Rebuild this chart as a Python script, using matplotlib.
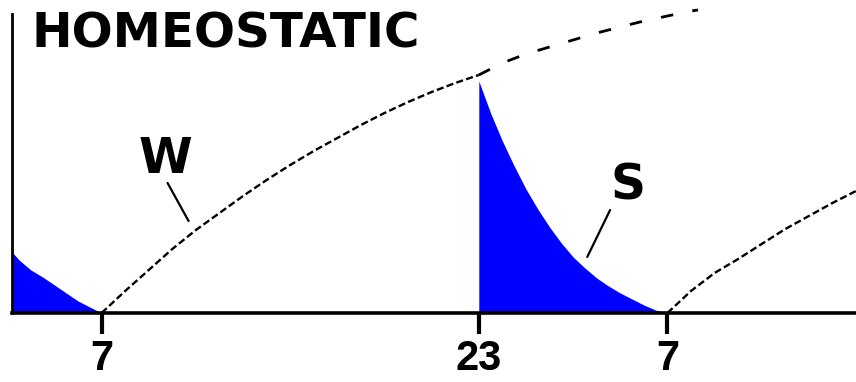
import matplotlib
matplotlib.use("Agg")
import matplotlib.pyplot as plt

# hours (7 = 7am, 23 = 11pm, 31 = 7am next day), heights in arbitrary units
w_day_hours = [7, 8, 9, 10, 11, 12, 13, 14, 15, 16, 17, 18, 19, 20, 21, 22, 23]
w_day = [0, 22, 43, 64, 83, 100, 117, 133, 148, 162, 175, 188, 200, 211, 221, 230, 238]

w_night_hours = [23, 24, 25, 26, 27, 28, 29, 30, 31, 32, 32.3]
w_night = [238, 250, 259, 266, 273, 280, 286, 292, 297, 302, 303]

w_next_hours = [31, 32, 33, 34, 35, 36, 37, 38, 39]
w_next = [0, 22, 40, 54, 69, 84, 97, 110, 122]

s_night_hours = [23, 23.5, 24, 24.5, 25, 25.5, 26, 26.5, 27, 27.5, 28, 28.5, 29, 29.5, 30, 30.5, 31]
s_night = [232, 200, 172, 147, 124, 104, 86, 70, 56, 45, 35, 27, 20, 14, 8, 3, 0]

s_morning_hours = [3.2, 3.5, 4, 4.5, 5, 5.5, 6, 6.5, 7]
s_morning = [61, 53, 43, 36, 28, 20, 12, 6, 0]

tick_pos = [7, 23, 31]
tick_labels = ["7", "23", "7"]

blue = "#0000ff"

fig = plt.figure(figsize=(8.56, 3.82), dpi=100)
ax = fig.add_axes([12 / 856, 69 / 382, 1 - 12 / 856, 313 / 382])
ax.set_xlim(3.2, 39.0)
ax.set_ylim(0, 313)

# sleep pressure (blue areas)
ax.fill_between(s_morning_hours, 0, s_morning, color=blue, lw=0, zorder=1)
ax.fill_between(s_night_hours, 0, s_night, color=blue, lw=0, zorder=1)

# wake curves
ax.plot(w_day_hours, w_day, color="black", lw=1.7, dashes=(3, 1.4),
        dash_capstyle="butt", zorder=3)
ax.plot(w_night_hours, w_night, color="black", lw=2.0, dashes=(4.5, 7),
        dash_capstyle="butt", zorder=3)
ax.plot(w_next_hours, w_next, color="black", lw=1.7, dashes=(3, 1.4),
        dash_capstyle="butt", zorder=3)

# labels with pointer lines
ax.text(9.71, 140, "W", fontsize=35, fontweight="bold", family="DejaVu Sans",
        ha="center", va="baseline")
ax.annotate("", xy=(10.69, 92), xytext=(9.8, 130),
            arrowprops=dict(arrowstyle="-", lw=1.6, color="black",
                            shrinkA=0, shrinkB=0))
ax.text(29.33, 114, "S", fontsize=35, fontweight="bold", family="DejaVu Sans",
        ha="center", va="baseline")
ax.annotate("", xy=(27.6, 56), xytext=(28.57, 103),
            arrowprops=dict(arrowstyle="-", lw=1.6, color="black",
                            shrinkA=0, shrinkB=0))

# axes styling
for side in ["top", "right"]:
    ax.spines[side].set_visible(False)
ax.spines["bottom"].set_linewidth(2.6)
ax.spines["left"].set_linewidth(2.0)
ax.spines["left"].set_bounds(0, 299)
ax.set_yticks([])
ax.set_xticks(tick_pos)
ax.set_xticklabels(tick_labels, family="Liberation Sans", fontweight="bold",
                   fontsize=30)
ax.tick_params(axis="x", direction="out", length=15, width=3, pad=4)

fig.text(32 / 856, 1 - 47 / 382, "HOMEOSTATIC", fontsize=34.8,
         fontweight="bold", family="DejaVu Sans", va="baseline", ha="left")

fig.savefig("out.png", dpi=100)
